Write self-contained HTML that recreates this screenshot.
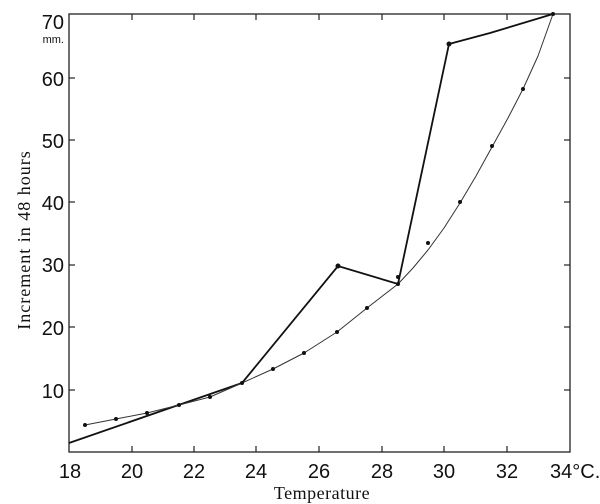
<!DOCTYPE html>
<html><head><style>body{margin:0;background:#fff}svg{display:block}</style></head><body>
<svg width="600" height="504" xmlns="http://www.w3.org/2000/svg">
<rect x="69" y="14" width="501" height="438" fill="none" stroke="#222" stroke-width="1.3"/>
<g stroke="#222" stroke-width="1.2">
<line x1="132" y1="452" x2="132" y2="446"/><line x1="194" y1="452" x2="194" y2="446"/><line x1="256" y1="452" x2="256" y2="446"/><line x1="319" y1="452" x2="319" y2="446"/><line x1="382" y1="452" x2="382" y2="446"/><line x1="444" y1="452" x2="444" y2="446"/><line x1="507" y1="452" x2="507" y2="446"/>
<line x1="132" y1="14" x2="132" y2="20"/><line x1="194" y1="14" x2="194" y2="20"/><line x1="256" y1="14" x2="256" y2="20"/><line x1="319" y1="14" x2="319" y2="20"/><line x1="382" y1="14" x2="382" y2="20"/><line x1="444" y1="14" x2="444" y2="20"/><line x1="507" y1="14" x2="507" y2="20"/>
<line x1="69" y1="390" x2="75" y2="390"/><line x1="69" y1="327" x2="75" y2="327"/><line x1="69" y1="265" x2="75" y2="265"/><line x1="69" y1="202" x2="75" y2="202"/><line x1="69" y1="140" x2="75" y2="140"/><line x1="69" y1="78" x2="75" y2="78"/>
<line x1="570" y1="390" x2="564" y2="390"/><line x1="570" y1="327" x2="564" y2="327"/><line x1="570" y1="265" x2="564" y2="265"/><line x1="570" y1="202" x2="564" y2="202"/><line x1="570" y1="140" x2="564" y2="140"/><line x1="570" y1="78" x2="564" y2="78"/>
</g>
<polyline fill="none" stroke="#111" stroke-width="1.8" points="69,443 242,383 338,266 398,284 449,44 490,33 553,14"/>
<polyline fill="none" stroke="#333" stroke-width="1" stroke-linejoin="round" points="85,425 116,419 147,413 179,405 210,397 242,383 273,369 304,353 337,332 367,308 398,284 413,268 428,250 444,228 460,203 476,176 492,147 508,118 523,89 538,56 553,14"/>
<g fill="#111">
<circle cx="85" cy="425" r="2"/><circle cx="116" cy="419" r="2"/><circle cx="147" cy="413" r="2"/><circle cx="179" cy="405" r="2"/><circle cx="210" cy="397" r="2"/><circle cx="242" cy="383" r="2"/><circle cx="273" cy="369" r="2"/><circle cx="304" cy="353" r="2"/><circle cx="337" cy="332" r="2"/><circle cx="367" cy="308" r="2"/><circle cx="398" cy="284" r="2"/><circle cx="428" cy="243" r="2"/><circle cx="460" cy="202" r="2"/><circle cx="492" cy="146" r="2"/><circle cx="523" cy="89" r="2"/><circle cx="553" cy="14" r="2"/>
<circle cx="338" cy="266" r="2.5"/><circle cx="449" cy="44" r="2.5"/><circle cx="398" cy="277" r="2"/>
</g>
<g font-family="Liberation Sans, sans-serif" font-size="20" fill="#111">
<text x="70" y="478" text-anchor="middle">18</text><text x="132" y="478" text-anchor="middle">20</text><text x="194" y="478" text-anchor="middle">22</text><text x="256" y="478" text-anchor="middle">24</text><text x="319" y="478" text-anchor="middle">26</text><text x="382" y="478" text-anchor="middle">28</text><text x="444" y="478" text-anchor="middle">30</text><text x="507" y="478" text-anchor="middle">32</text><text x="550" y="478">34°C.</text>
<g text-anchor="end"><text x="64" y="29">70</text><text x="64" y="86">60</text><text x="64" y="148">50</text><text x="64" y="210">40</text><text x="64" y="272">30</text><text x="64" y="335">20</text><text x="64" y="398">10</text></g>
<text x="64" y="43" font-size="11" text-anchor="end">mm.</text>
</g>
<text x="322" y="499" font-family="Liberation Serif, serif" font-size="18" text-anchor="middle" fill="#111" letter-spacing="0.5">Temperature</text>
<text transform="translate(30,240) rotate(-90)" font-family="Liberation Serif, serif" font-size="18" text-anchor="middle" fill="#111" letter-spacing="1">Increment in 48 hours</text>
</svg>
</body></html>
